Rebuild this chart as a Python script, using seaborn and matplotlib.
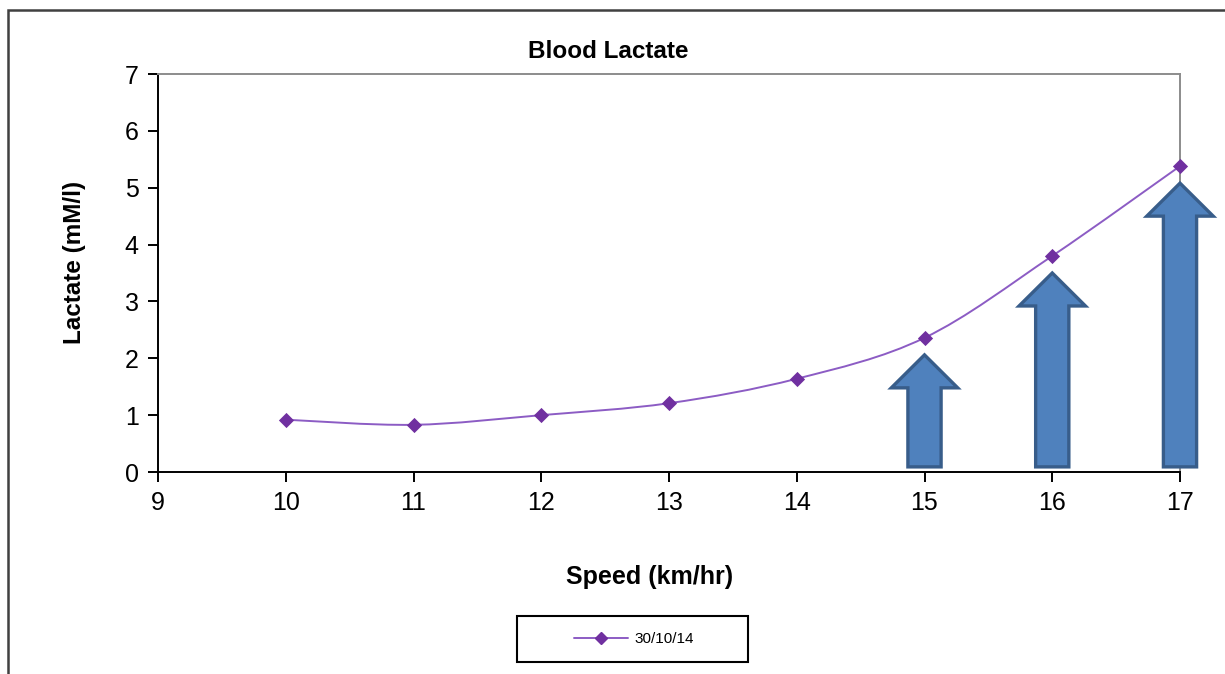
import numpy as np
import pandas as pd
import matplotlib
matplotlib.use("Agg")
import matplotlib.pyplot as plt
import seaborn as sns
from matplotlib.path import Path
from matplotlib.patches import PathPatch, Rectangle
from matplotlib.lines import Line2D

# ---- data ----
speeds = [10, 11, 12, 13, 14, 15, 16, 17]
lactate = [0.92, 0.83, 1.00, 1.21, 1.64, 2.36, 3.80, 5.38]
series_label = "30/10/14"
arrow_speeds = [15, 16, 17]
title = "Blood Lactate"
xlabel = "Speed (km/hr)"
ylabel = "Lactate (mM/l)"

sns.set_theme(style="white")
plt.rcParams['font.family'] = ['Liberation Sans', 'DejaVu Sans']
plt.rcParams['text.color'] = 'black'

W, H = 1225, 674
fig = plt.figure(figsize=(W / 100, H / 100), dpi=100)
fig.patch.set_facecolor("white")

# outer chart frame
fig.add_artist(Rectangle((8 / W, -0.05), 1.2, 1 - 10 / H + 0.05, transform=fig.transFigure,
                         fill=False, edgecolor="#404040", linewidth=1.8))

ax = fig.add_axes([158 / W, 1 - 472 / H, (1180 - 158) / W, (472 - 74) / H])
df = pd.DataFrame({"speed": speeds, "lactate": lactate})

line_color = "#8c5cc4"
marker_color = "#7030a0"

# smooth (Excel-like) curve through the points using cubic Bezier segments
pts = np.column_stack([speeds, lactate]).astype(float)
ext = np.vstack([pts[0], pts, pts[-1]])
verts = [tuple(pts[0])]
codes = [Path.MOVETO]
for i in range(len(pts) - 1):
    p0, p1, p2, p3 = ext[i], ext[i + 1], ext[i + 2], ext[i + 3]
    c1 = p1 + (p2 - p0) / 6.0
    c2 = p2 - (p3 - p1) / 6.0
    verts += [tuple(c1), tuple(c2), tuple(p2)]
    codes += [Path.CURVE4] * 3
ax.add_patch(PathPatch(Path(verts, codes), facecolor="none", edgecolor=line_color,
                       linewidth=1.4, zorder=3, clip_on=False))

sns.scatterplot(data=df, x="speed", y="lactate", marker="D", s=60, color=marker_color,
                edgecolor=marker_color, linewidth=0, ax=ax, zorder=6, legend=False, clip_on=False)

# blue arrows beneath the last three points
for sp in arrow_speeds:
    val = lactate[speeds.index(sp)]
    base = 0.09
    tip = val - 0.3
    ax.arrow(sp, base, 0, tip - base, width=0.26, head_width=0.52, head_length=0.58,
             length_includes_head=True, facecolor="#4f81bd", edgecolor="#385d8a",
             linewidth=2.4, zorder=5, clip_on=False)

ax.set_xlim(9, 17)
ax.set_ylim(0, 7)
ax.set_xticks(range(9, 18))
ax.set_yticks(range(0, 8))
ax.set_xlabel("")
ax.set_ylabel("")
ax.tick_params(axis="both", which="both", direction="out", length=7, width=1.4,
               color="black", labelsize=18, labelcolor="black", pad=7,
               bottom=True, left=True)
for side in ["left", "bottom"]:
    ax.spines[side].set_color("black")
    ax.spines[side].set_linewidth(1.4)
for side in ["top", "right"]:
    ax.spines[side].set_color("#8c8c8c")
    ax.spines[side].set_linewidth(1.4)

fig.text(608 / W, 1 - 52 / H, title, ha="center", va="center", fontsize=17.5,
         fontweight="bold", color="black")
fig.text(650 / W, 1 - 577 / H, xlabel, ha="center", va="center", fontsize=18,
         fontweight="bold", color="black")
fig.text(75 / W, 1 - 262 / H, ylabel, ha="center", va="center", fontsize=17.5,
         fontweight="bold", rotation=90, color="black")

# legend box
fig.add_artist(Rectangle((517 / W, 1 - 662 / H), (748 - 517) / W, (662 - 616) / H,
                         transform=fig.transFigure, fill=False, edgecolor="black", linewidth=1.5))
handle = Line2D([], [], color=line_color, linewidth=1.4, marker="D", markersize=6,
                markerfacecolor=marker_color, markeredgecolor=marker_color)
fig.legend([handle], [series_label], loc="center", bbox_to_anchor=(634 / W, 1 - 639 / H),
           frameon=False, fontsize=11, handlelength=3.5, handletextpad=0.4,
           labelcolor="black")

fig.savefig("out.png", dpi=100, facecolor="white")
